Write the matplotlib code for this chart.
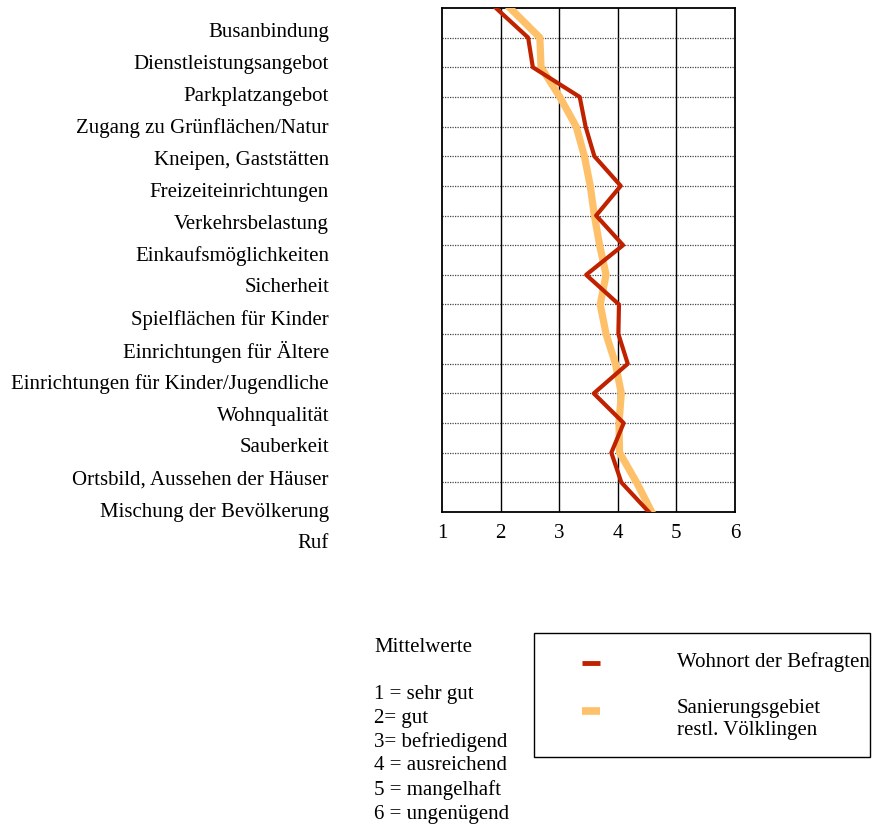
import matplotlib.pyplot as plt
from matplotlib.lines import Line2D
from matplotlib.patches import Rectangle

plt.rcParams['font.family'] = ['Liberation Serif', 'DejaVu Serif']

# Kategorien (Beschriftung links)
kategorien = ['Busanbindung', 'Dienstleistungsangebot', 'Parkplatzangebot',
              'Zugang zu Grünflächen/Natur', 'Kneipen, Gaststätten',
              'Freizeiteinrichtungen', 'Verkehrsbelastung', 'Einkaufsmöglichkeiten',
              'Sicherheit', 'Spielflächen für Kinder', 'Einrichtungen für Ältere',
              'Einrichtungen für Kinder/Jugendliche', 'Wohnqualität', 'Sauberkeit',
              'Ortsbild, Aussehen der Häuser', 'Mischung der Bevölkerung', 'Ruf']

# Mittelwerte (von oben nach unten)
wohnort = [1.92, 2.47, 2.55, 3.35, 3.45, 3.60, 4.05, 3.63, 4.09, 3.46,
           4.02, 4.01, 4.17, 3.59, 4.10, 3.89, 4.06, 4.53]
sanierung = [2.16, 2.67, 2.69, 3.01, 3.29, 3.43, 3.53, 3.60, 3.69, 3.80,
             3.70, 3.80, 3.96, 4.06, 4.02, 4.03, 4.32, 4.58]

skala = ['1 = sehr gut', '2= gut', '3= befriedigend', '4 = ausreichend',
         '5 = mangelhaft', '6 = ungenügend']
legende = ['Wohnort der Befragten', 'Sanierungsgebiet\nrestl. Völklingen']

rot = '#c02200'
orange = '#ffc06a'
fs = 15

W, H = 873, 826
fig = plt.figure(figsize=(W / 100, H / 100), dpi=100)

def fx(x):
    return x / W

def fy(y):
    return 1 - y / H

ax = fig.add_axes([fx(442), fy(512), fx(735) - fx(442), (512 - 8) / H])

pos = list(range(len(wohnort)))
ax.plot(sanierung, pos, color=orange, lw=5.2, zorder=3)
ax.plot(wohnort, pos, color=rot, lw=3.0, zorder=4)

ax.set_xlim(1, 6)
ax.set_ylim(len(wohnort) - 1, 0)
ax.set_xticks(range(1, 7))
ax.set_yticks([])
ax.tick_params(axis='x', length=0, pad=9, labelsize=fs)

for xv in range(2, 6):
    ax.axvline(xv, color='black', lw=1.0, zorder=1)
for yv in range(1, len(wohnort) - 1):
    ax.axhline(yv, color='#444444', lw=0.9, ls=(0, (1, 1)), zorder=1)
for s in ax.spines.values():
    s.set_linewidth(1.3)

# Beschriftung links
for i, k in enumerate(kategorien):
    fig.text(fx(329), fy(32 + 32 * i), k, ha='right', va='center', fontsize=fs)

# Skala
fig.text(fx(374), fy(647), 'Mittelwerte', ha='left', va='center', fontsize=fs)
for i, s in enumerate(skala):
    fig.text(fx(374), fy(694 + 24 * i), s, ha='left', va='center', fontsize=fs)

# Legende
fig.add_artist(Rectangle((fx(534), fy(757)), fx(870) - fx(534), (757 - 633) / H,
                         transform=fig.transFigure, fill=False, ec='black', lw=1.0))
fig.add_artist(Line2D([fx(582), fx(600)], [fy(663), fy(663)], color=rot, lw=3.5,
                      solid_capstyle='butt', transform=fig.transFigure))
fig.add_artist(Line2D([fx(582), fx(600)], [fy(711), fy(711)], color=orange, lw=5.5,
                      solid_capstyle='butt', transform=fig.transFigure))
fig.text(fx(677), fy(662), legende[0], ha='left', va='center', fontsize=fs)
for j, zeile in enumerate(legende[1].split('\n')):
    fig.text(fx(677), fy(708 + 23 * j), zeile, ha='left', va='center', fontsize=fs)

fig.savefig('out.png', dpi=100)
